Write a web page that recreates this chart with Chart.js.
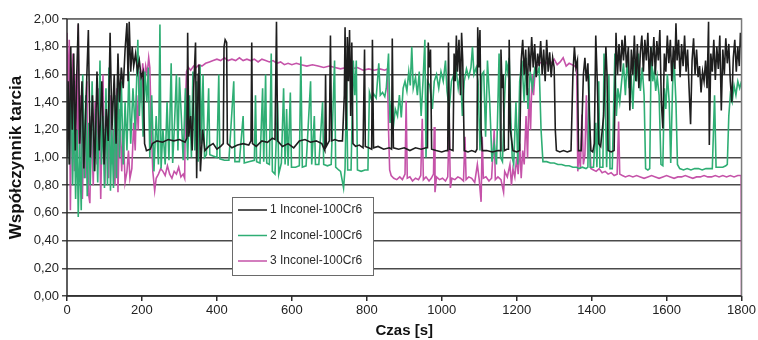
<!DOCTYPE html>
<html>
<head>
<meta charset="utf-8">
<script src="https://cdn.jsdelivr.net/npm/chart.js@4.4.1/dist/chart.umd.min.js"></script>
<style>
    html, body { margin: 0; padding: 0; background: #fff; }
    #wrap { width: 758px; height: 340px; }
</style>
</head>
<body>
<div id="wrap"><canvas id="frictionChart" width="758" height="340"></canvas></div>
<script>
// --- Data (time in s, friction coefficient) ---
const seriesLabels = ['1 Inconel-100Cr6', '2 Inconel-100Cr6', '3 Inconel-100Cr6'];
const seriesColors = ['#1e1e1e', '#2fae74', '#c553a9'];
const yTickLabels = ['0,00', '0,20', '0,40', '0,60', '0,80', '1,00', '1,20', '1,40', '1,60', '1,80', '2,00'];
const xTickLabels = ['0', '200', '400', '600', '800', '1000', '1200', '1400', '1600', '1800'];

const s1Time = [0,3,6,10,14,18,22,26,30,34,40,45,50,57,62,68,74,80,86,93,99,105,110,115,120,126,131,136,140,145,150,155,160,163,166,170,174,178,183,188,193,198,203,207,212,222,228,240,255,270,285,300,315,320,322,325,330,334,338,343,346,350,352,356,362,368,378,390,400,410,417,419,422,426,428,440,455,470,485,491,493,495,505,520,535,548,555,559,562,575,590,605,620,635,650,665,680,688,690,692,700,703,706,715,725,735,740,742,745,748,751,754,757,760,763,770,780,790,794,796,805,813,815,818,830,845,860,866,868,871,885,900,915,930,945,958,962,964,967,970,973,985,1000,1012,1016,1018,1021,1030,1033,1036,1039,1042,1046,1050,1053,1056,1060,1070,1080,1090,1094,1096,1099,1102,1105,1108,1120,1135,1150,1156,1158,1161,1164,1167,1174,1178,1180,1183,1190,1200,1208,1212,1216,1220,1224,1228,1232,1236,1240,1244,1248,1252,1256,1260,1264,1268,1272,1276,1280,1284,1288,1292,1296,1300,1303,1306,1315,1325,1335,1345,1350,1354,1358,1362,1365,1372,1378,1382,1386,1390,1394,1398,1403,1407,1411,1415,1419,1424,1432,1438,1441,1444,1452,1460,1465,1469,1473,1477,1481,1485,1489,1493,1498,1502,1506,1510,1514,1518,1522,1526,1530,1534,1538,1542,1546,1550,1554,1558,1562,1566,1570,1574,1578,1582,1586,1590,1594,1598,1602,1606,1610,1614,1618,1622,1625,1628,1632,1636,1640,1644,1648,1652,1656,1660,1664,1668,1672,1676,1680,1684,1688,1692,1696,1700,1704,1708,1712,1714,1718,1722,1726,1730,1734,1738,1742,1746,1750,1754,1758,1762,1766,1770,1774,1778,1782,1786,1790,1794,1797,1800];
const s1Value = [1.00,1.55,0.95,1.80,1.20,1.75,1.05,1.60,1.97,1.10,1.55,0.92,1.35,1.92,1.00,1.45,0.90,1.62,1.05,1.55,0.95,1.35,1.12,1.90,1.20,1.60,1.10,1.75,1.40,1.65,1.50,1.78,1.97,1.55,1.98,1.62,1.80,1.66,1.75,1.62,1.70,1.58,1.62,1.10,1.05,1.06,1.10,1.12,1.11,1.13,1.12,1.13,1.11,1.14,1.90,1.15,1.30,1.05,1.50,1.83,0.85,1.60,1.67,0.90,1.20,1.05,1.08,1.10,1.06,1.08,1.10,1.80,1.85,1.83,1.10,1.07,1.09,1.10,1.09,1.12,1.83,1.10,1.08,1.12,1.11,1.14,1.13,1.98,1.12,1.08,1.10,1.07,1.12,1.13,1.11,1.12,1.10,1.05,1.60,1.08,1.12,1.88,1.12,1.13,1.12,1.12,1.45,1.94,1.20,1.87,1.55,1.92,1.30,1.83,1.10,1.08,1.09,1.07,1.78,1.08,1.07,1.06,1.85,1.07,1.08,1.06,1.07,1.06,1.86,1.07,1.06,1.07,1.05,1.07,1.06,1.07,1.07,1.83,1.65,1.78,1.06,1.05,1.04,1.05,1.05,1.83,1.06,1.05,1.75,1.55,1.88,1.62,1.85,1.45,1.90,1.70,1.05,1.04,1.05,1.04,1.06,1.94,1.65,1.92,1.20,1.05,1.05,1.04,1.05,1.05,1.78,1.50,1.60,1.05,1.06,1.06,1.85,1.20,1.05,1.04,1.05,1.70,1.85,1.60,1.78,1.45,1.80,1.62,1.87,1.65,1.82,1.58,1.75,1.66,1.84,1.60,1.78,1.55,1.85,1.62,1.76,1.58,1.72,1.65,1.20,1.05,1.04,1.05,1.04,1.05,1.60,1.80,1.65,1.70,1.05,1.05,1.60,1.72,1.55,1.68,1.30,1.05,1.04,1.10,1.88,1.55,1.10,1.08,1.30,1.80,1.60,1.05,1.04,1.05,1.90,1.60,1.82,1.62,1.85,1.70,1.88,1.65,1.80,1.34,1.78,1.60,1.88,1.55,1.82,1.50,1.76,1.88,1.62,1.85,1.70,1.90,1.55,1.80,1.66,1.87,1.60,1.84,1.70,1.92,1.40,1.21,1.75,1.62,1.88,1.68,1.85,1.55,1.80,1.64,1.97,1.70,1.85,1.58,1.82,1.66,1.88,1.62,1.78,1.50,1.24,1.70,1.86,1.60,1.78,1.58,1.66,1.47,1.62,1.55,1.70,1.50,1.98,1.09,1.75,1.62,1.85,1.56,1.80,1.64,1.88,1.34,1.78,1.60,1.86,1.68,1.82,1.55,1.40,1.72,1.85,1.62,1.80,1.66,1.90,1.80];

const s2Time = [0,3,7,11,15,19,23,27,30,34,38,42,46,50,54,58,62,67,72,77,82,88,92,96,100,104,108,112,116,120,124,128,132,136,140,145,150,155,160,165,170,176,182,189,193,198,203,208,213,217,221,226,232,238,244,248,251,256,262,267,272,278,282,287,292,296,300,305,310,316,322,327,332,336,341,346,350,355,359,363,367,372,378,381,390,400,405,408,420,432,445,448,460,470,473,485,500,503,506,515,522,525,530,533,540,545,548,555,562,565,572,578,582,586,590,596,599,610,620,624,628,638,650,653,660,663,672,682,685,695,705,714,717,725,730,738,742,746,749,758,764,768,772,775,785,795,803,807,812,818,825,832,836,842,848,852,858,862,866,870,876,882,887,892,897,902,907,912,916,920,924,930,935,940,945,950,955,958,962,968,975,980,986,992,998,1004,1010,1014,1020,1026,1032,1038,1044,1050,1055,1060,1066,1072,1078,1082,1086,1092,1097,1102,1107,1112,1117,1122,1128,1134,1140,1146,1153,1157,1162,1168,1172,1176,1180,1184,1188,1192,1198,1203,1208,1214,1220,1225,1230,1236,1242,1248,1254,1260,1265,1270,1280,1290,1300,1310,1320,1330,1340,1350,1360,1366,1375,1385,1390,1393,1396,1405,1411,1414,1419,1422,1430,1433,1436,1440,1446,1449,1455,1462,1466,1470,1475,1480,1485,1490,1495,1500,1505,1510,1515,1520,1525,1530,1535,1540,1544,1550,1555,1559,1563,1567,1571,1575,1580,1585,1590,1594,1598,1602,1607,1611,1616,1620,1625,1629,1635,1645,1655,1665,1675,1685,1695,1705,1715,1722,1728,1732,1740,1750,1758,1762,1766,1770,1775,1780,1785,1790,1795,1800];
const s2Value = [1.20,1.50,0.95,1.65,0.80,1.40,0.70,1.20,0.57,1.10,0.62,1.60,0.85,1.45,0.72,1.25,0.80,1.55,0.90,1.35,0.82,1.70,0.95,1.30,0.78,1.50,0.80,1.65,0.76,1.20,0.78,1.45,0.85,1.68,1.00,1.55,0.95,1.40,1.05,1.62,1.10,1.50,1.20,1.85,1.30,1.60,1.15,1.62,1.40,1.65,1.00,1.45,0.90,1.30,0.95,1.96,0.92,1.20,0.95,1.40,0.98,1.68,0.96,1.25,1.60,1.05,1.58,1.30,0.98,1.50,0.98,1.45,1.00,1.62,1.05,1.55,0.97,1.67,1.10,1.60,1.00,1.02,1.50,1.02,1.01,1.00,1.60,0.99,0.98,0.98,1.55,0.97,0.97,1.30,0.96,0.97,0.98,1.45,0.97,0.96,1.50,0.97,1.60,0.96,0.95,1.75,0.90,0.88,1.40,0.88,0.96,1.50,0.95,1.35,0.94,1.47,0.93,0.93,0.94,1.73,0.93,0.94,1.55,0.95,1.30,0.95,0.95,1.40,0.95,0.94,0.95,1.70,0.93,0.91,0.90,0.78,0.92,1.55,0.91,0.91,1.70,1.45,1.70,0.91,0.90,0.91,0.91,1.47,1.42,1.46,1.43,1.68,1.45,1.47,1.44,1.50,1.75,1.25,1.40,1.20,1.35,1.30,1.45,1.29,1.50,1.55,1.48,1.62,1.52,1.80,1.50,1.58,1.45,1.62,1.30,1.55,1.85,1.00,1.55,1.52,1.35,1.55,1.60,1.50,1.62,1.55,1.70,1.48,1.35,1.55,1.60,1.65,1.50,1.62,1.30,1.55,1.64,1.58,1.65,1.80,1.60,1.65,1.55,1.05,1.60,1.62,1.15,1.70,1.40,0.97,1.10,0.95,1.75,1.00,0.97,1.45,1.70,1.62,1.72,1.30,1.00,0.95,1.40,0.95,1.55,1.70,1.40,1.72,1.35,1.62,1.50,1.64,1.60,1.65,1.20,0.97,0.97,0.96,0.96,0.95,0.95,0.94,0.94,0.93,0.93,0.92,0.93,0.92,0.93,1.60,0.93,0.93,1.25,0.93,1.55,0.93,0.93,1.75,1.50,0.93,1.60,0.92,0.92,1.75,1.30,1.50,1.40,1.55,1.68,1.45,1.72,1.50,1.60,1.35,1.70,1.55,1.75,1.48,1.65,1.45,0.92,0.91,0.92,1.80,1.55,1.62,1.48,1.58,1.45,0.95,0.94,1.50,1.35,1.60,1.40,0.96,1.52,1.70,1.40,0.95,0.92,0.91,0.92,0.91,0.92,0.92,0.91,0.92,0.92,0.92,1.45,0.93,0.93,0.93,0.94,0.95,1.30,1.45,1.40,1.52,1.45,1.55,1.50,1.55];

const s3Time = [0,3,6,9,12,16,20,24,28,30,33,37,41,45,49,53,57,61,65,70,75,80,85,90,96,101,106,111,115,120,124,128,133,136,141,146,150,155,160,164,168,173,178,182,186,190,194,198,202,206,210,214,218,221,225,229,234,238,244,250,256,262,268,274,280,286,292,298,304,310,314,316,319,324,330,338,345,352,360,370,380,390,400,410,420,430,440,450,460,470,480,490,500,510,520,530,540,550,560,570,580,590,600,612,625,640,655,670,685,700,715,730,745,760,775,790,805,820,835,848,855,858,861,865,872,880,888,895,902,905,908,915,922,930,938,944,948,951,958,966,972,978,980,982,986,994,1002,1010,1016,1020,1023,1027,1035,1043,1050,1058,1062,1065,1072,1080,1088,1095,1100,1105,1108,1111,1118,1126,1133,1140,1143,1150,1158,1165,1168,1175,1182,1186,1190,1195,1200,1204,1208,1212,1216,1220,1225,1229,1233,1237,1241,1245,1249,1253,1260,1268,1276,1284,1292,1300,1308,1316,1324,1332,1340,1348,1355,1360,1363,1366,1370,1374,1378,1382,1386,1390,1394,1398,1405,1412,1420,1428,1436,1444,1452,1460,1468,1472,1475,1482,1490,1500,1510,1520,1530,1540,1550,1560,1570,1580,1590,1600,1610,1620,1630,1640,1650,1660,1670,1680,1690,1700,1710,1720,1730,1740,1750,1760,1770,1780,1790,1799,1800];
const s3Value = [1.90,1.40,1.85,0.62,1.30,1.75,0.90,1.60,1.10,1.96,1.00,1.45,0.70,1.20,0.85,1.55,0.75,0.67,1.30,0.80,1.40,0.95,1.50,0.70,1.60,0.80,1.30,0.85,1.45,0.95,1.20,0.80,1.50,0.75,1.35,0.90,1.20,0.82,0.90,1.05,0.85,0.92,1.25,1.05,1.45,1.20,1.62,1.40,1.68,1.55,1.66,1.60,1.72,1.65,1.20,0.90,0.76,0.85,0.88,0.92,0.90,0.87,0.94,0.88,0.85,0.90,0.88,0.93,0.86,0.88,0.85,1.40,1.62,1.65,1.63,1.66,1.65,1.67,1.66,1.68,1.69,1.70,1.71,1.70,1.72,1.70,1.71,1.70,1.72,1.70,1.71,1.70,1.71,1.69,1.71,1.70,1.69,1.70,1.68,1.69,1.67,1.68,1.67,1.68,1.67,1.66,1.67,1.66,1.65,1.66,1.65,1.64,1.65,1.64,1.65,1.63,1.64,1.63,1.64,1.63,1.64,1.20,0.91,0.87,0.85,0.84,0.86,0.84,0.88,1.41,0.85,0.86,0.83,0.85,0.84,0.87,1.28,0.84,0.86,0.83,0.85,0.88,1.22,0.75,0.86,0.84,0.85,0.83,0.86,1.25,0.78,0.85,0.84,0.86,0.85,0.83,1.15,0.84,0.86,0.85,0.82,0.95,0.84,0.68,1.15,0.85,0.86,0.83,0.85,1.20,0.84,0.86,0.84,0.75,0.90,0.86,0.95,0.80,0.92,0.86,1.00,0.88,1.10,0.85,1.05,0.95,1.30,1.00,1.50,1.20,1.60,1.45,1.62,1.66,1.68,1.69,1.67,1.70,1.68,1.71,1.67,1.69,1.72,1.66,1.68,1.67,1.66,1.64,0.90,1.05,0.92,1.31,0.95,1.02,1.45,1.00,1.20,0.92,0.91,0.90,0.92,0.89,0.90,0.88,0.89,0.87,0.88,1.26,0.88,0.87,0.86,0.87,0.86,0.87,0.86,0.85,0.86,0.87,0.86,0.85,0.86,0.87,0.86,0.85,0.86,0.86,0.87,0.86,0.85,0.86,0.86,0.87,0.86,0.86,0.87,0.86,0.87,0.86,0.87,0.86,0.87,0.87,0.00];

const seriesTimes = [s1Time, s2Time, s3Time];
const seriesValues = [s1Value, s2Value, s3Value];

const FONT = '"Liberation Sans", Arial, sans-serif';

// --- Legend box drawn inside the plot area ---
const insideLegend = {
    id: 'insideLegend',
    afterDraw(chart) {
        const ctx = chart.ctx;
        const area = chart.chartArea;
        const left = area.left + 165;
        const top = area.top + 178;
        const w = 141, h = 78;
        ctx.save();
        ctx.fillStyle = '#ffffff';
        ctx.fillRect(left, top, w, h);
        ctx.strokeStyle = '#6a6a6a';
        ctx.lineWidth = 1;
        ctx.strokeRect(left + 0.5, top + 0.5, w, h);
        ctx.font = '12px ' + FONT;
        ctx.textBaseline = 'middle';
        chart.data.datasets.forEach((ds, i) => {
            const y = top + 13 + i * 25.5;
            ctx.strokeStyle = ds.borderColor;
            ctx.lineWidth = 1.5;
            ctx.beginPath();
            ctx.moveTo(left + 6, y);
            ctx.lineTo(left + 35, y);
            ctx.stroke();
            ctx.fillStyle = '#2a2a2a';
            ctx.fillText(ds.label, left + 38, y);
        });
        ctx.restore();
    }
};

// --- Gray frame round the plot area ---
const plotFrame = {
    id: 'plotFrame',
    afterDatasetsDraw(chart) {
        const ctx = chart.ctx;
        const a = chart.chartArea;
        ctx.save();
        ctx.strokeStyle = '#7a7a7a';
        ctx.lineWidth = 1.5;
        ctx.beginPath();
        ctx.moveTo(a.left, a.top);
        ctx.lineTo(a.right, a.top);
        ctx.lineTo(a.right, a.bottom);
        ctx.stroke();
        ctx.strokeStyle = '#2a2a2a';
        ctx.beginPath();
        ctx.moveTo(a.left, a.top);
        ctx.lineTo(a.left, a.bottom);
        ctx.lineTo(a.right, a.bottom);
        ctx.stroke();
        ctx.restore();
    }
};

function buildDatasets() {
    return seriesLabels.map((label, i) => ({
        label: label,
        data: seriesTimes[i].map((t, k) => ({ x: t, y: seriesValues[i][k] })),
        borderColor: seriesColors[i],
        backgroundColor: seriesColors[i],
        borderWidth: 1.6,
        pointRadius: 0,
        tension: 0,
        fill: false
    }));
}

const ctx = document.getElementById('frictionChart').getContext('2d');
const frictionChart = new Chart(ctx, {
    type: 'line',
    data: { datasets: buildDatasets() },
    options: {
        responsive: false,
        animation: false,
        layout: { padding: { left: 6, right: 15, top: 19, bottom: 0 } },
        plugins: {
            legend: { display: false },
            tooltip: { enabled: false }
        },
        scales: {
            x: {
                type: 'linear',
                min: 0,
                max: 1800,
                afterFit: s => { s.height = 44; },
                ticks: {
                    stepSize: 200,
                    maxRotation: 0,
                    padding: 2,
                    color: '#222',
                    font: { family: FONT, size: 13 },
                    callback: (v, i) => xTickLabels[i]
                },
                grid: { drawOnChartArea: false, drawTicks: true, tickLength: 5, color: '#2a2a2a', lineWidth: 1.5 },
                border: { display: false },
                title: {
                    display: true,
                    text: 'Czas [s]',
                    color: '#111',
                    padding: { top: 0, bottom: 0 },
                    font: { family: FONT, size: 15, weight: 'bold' }
                }
            },
            y: {
                min: 0,
                max: 2,
                afterFit: s => { s.width = 61; },
                ticks: {
                    stepSize: 0.2,
                    padding: 3,
                    color: '#222',
                    font: { family: FONT, size: 13 },
                    callback: (v, i) => yTickLabels[i]
                },
                grid: { color: '#4a4a4a', lineWidth: 1.5, tickLength: 5 },
                border: { display: false },
                title: {
                    display: true,
                    text: 'Współczynnik tarcia',
                    color: '#111',
                    padding: { top: 0, bottom: 0 },
                    font: { family: FONT, size: 17, weight: 'bold' }
                }
            }
        }
    },
    plugins: [plotFrame, insideLegend]
});
</script>
</body>
</html>
